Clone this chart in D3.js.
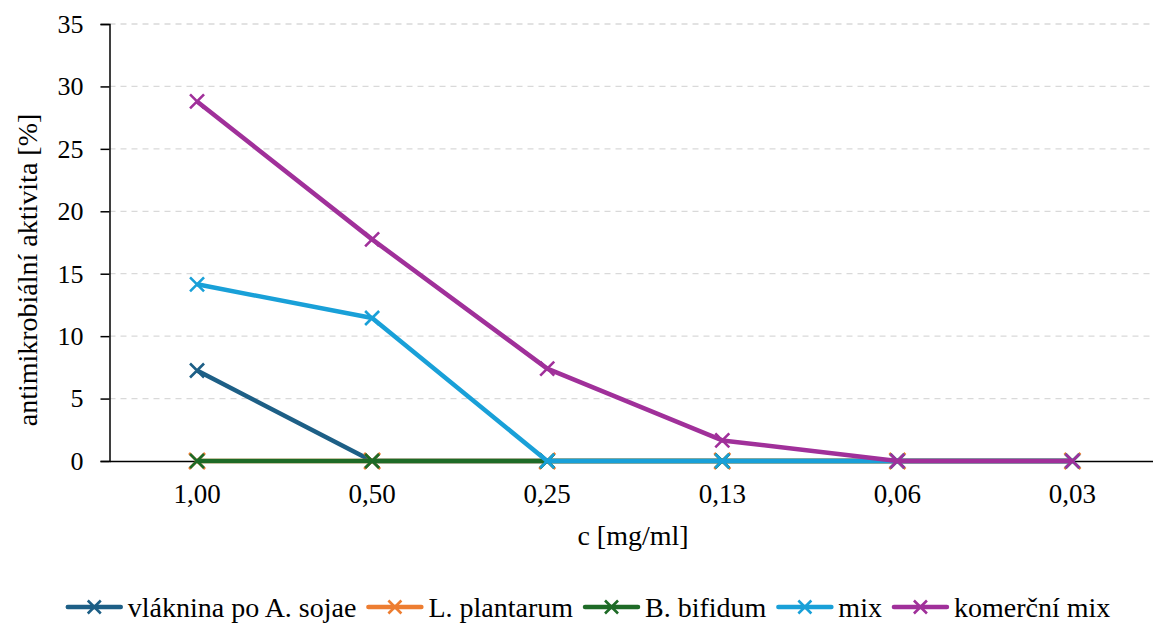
<!DOCTYPE html>
<html>
<head>
<meta charset="utf-8">
<script src="https://cdn.jsdelivr.net/npm/d3@7"></script>
</head>
<body style="margin:0">
<svg id="svg" width="1153" height="623"></svg>
<script>
const categories = ["1,00", "0,50", "0,25", "0,13", "0,06", "0,03"];
const yTicks = [0, 5, 10, 15, 20, 25, 30, 35];

const seriesNames = ["vláknina po A. sojae", "L. plantarum", "B. bifidum", "mix", "komerční mix"];
const seriesColors = ["#1d5f86", "#ed7d31", "#1e6b27", "#19a0d8", "#a0309a"];
const sojae = [7.25, 0, 0, 0, 0, 0];
const plantarum = [0, 0, 0, 0, 0, 0];
const bifidum = [0, 0, 0, 0, 0, 0];
const mix = [14.15, 11.45, 0, 0, 0, 0];
const komercni = [28.8, 17.75, 7.4, 1.65, 0, 0];
const seriesValues = [sojae, plantarum, bifidum, mix, komercni];

const margin = {top: 24, left: 109.5, right: -7, bottom: 162};
const width = 1153, height = 623;

const svg = d3.select("#svg")
    .attr("font-family", "Times New Roman");

function serif(sel, size) {
    sel.attr("font-family", "Times New Roman").attr("font-size", size);
}

const xScale = d3.scaleBand()
    .domain(categories)
    .range([margin.left, width - margin.right]);
const yScale = d3.scaleLinear()
    .domain([0, 35])
    .range([height - margin.bottom, margin.top]);

// gridlines
svg.append("g")
    .selectAll("line")
    .data(yTicks.filter(d => d > 0))
    .join("line")
    .attr("x1", margin.left)
    .attr("x2", width)
    .attr("y1", d => yScale(d))
    .attr("y2", d => yScale(d))
    .attr("stroke", "#d9d9d9")
    .attr("stroke-width", 1.3)
    .attr("stroke-dasharray", "6,5");

// y axis
const yAxisCall = d3.axisLeft(yScale).tickValues(yTicks).tickSize(9).tickPadding(17);
const yAxis = svg.append("g")
    .attr("transform", "translate(" + margin.left + ",0)")
    .call(yAxisCall);
yAxis.call(serif, 26);
yAxis.select(".domain").attr("stroke", "#000").attr("stroke-width", 1.5).attr("fill", "none");
yAxis.selectAll(".tick line").attr("stroke", "#000").attr("stroke-width", 1.5);
yAxis.selectAll("text").call(serif, 26).attr("fill", "#000");

// x axis
const xAxisCall = d3.axisBottom(xScale).tickSize(0).tickPadding(23);
const xAxis = svg.append("g")
    .attr("transform", "translate(0," + yScale(0) + ")")
    .call(xAxisCall);
xAxis.call(serif, 27);
xAxis.select(".domain").attr("stroke", "#000").attr("stroke-width", 1.5).attr("fill", "none");
xAxis.selectAll("text").call(serif, 27).attr("fill", "#000");

// axis titles
svg.append("text")
    .attr("x", 633)
    .attr("y", 545)
    .attr("text-anchor", "middle")
    .call(serif, 28)
    .text("c [mg/ml]");

svg.append("text")
    .attr("transform", "translate(37,270) rotate(-90)")
    .attr("text-anchor", "middle")
    .call(serif, 28)
    .text("antimikrobiální aktivita [%]");

// series
const line = d3.line()
    .x((d, i) => xScale(categories[i]) + xScale.bandwidth() / 2)
    .y(d => yScale(d));

function cross(g, cx, cy, r, color, sw) {
    g.append("path")
        .attr("d", "M" + (cx - r) + "," + (cy - r) + "L" + (cx + r) + "," + (cy + r) +
                   "M" + (cx - r) + "," + (cy + r) + "L" + (cx + r) + "," + (cy - r))
        .attr("stroke", color)
        .attr("stroke-width", sw)
        .attr("fill", "none");
}

seriesValues.forEach((vals, s) => {
    const g = svg.append("g");
    g.append("path")
        .datum(vals)
        .attr("d", line)
        .attr("fill", "none")
        .attr("stroke", seriesColors[s])
        .attr("stroke-width", 4.5)
        .attr("stroke-linejoin", "round");
    const r = s === 1 ? 8 : 7;
    vals.forEach((v, i) => {
        cross(g, xScale(categories[i]) + xScale.bandwidth() / 2, yScale(v), r, seriesColors[s], 2.6);
    });
});

// legend, laid out then centred on the reference span
const legend = svg.append("g");
let lx = 0;
seriesNames.forEach((name, s) => {
    const item = legend.append("g").attr("transform", "translate(" + lx + ",607)");
    item.append("line")
        .attr("x1", 0).attr("x2", 53)
        .attr("y1", 0).attr("y2", 0)
        .attr("stroke", seriesColors[s])
        .attr("stroke-width", 4.5)
        .attr("stroke-linecap", "round");
    cross(item, 26.5, 0, 6.5, seriesColors[s], 2.6);
    const t = item.append("text")
        .attr("x", 60)
        .attr("y", 10)
        .call(serif, 28)
        .attr("fill", "#000")
        .text(name);
    lx += 60 + t.node().getComputedTextLength() + 12;
});
const legendWidth = lx - 12;
legend.attr("transform", "translate(" + (589 - legendWidth / 2) + ",0)");
</script>
</body>
</html>
